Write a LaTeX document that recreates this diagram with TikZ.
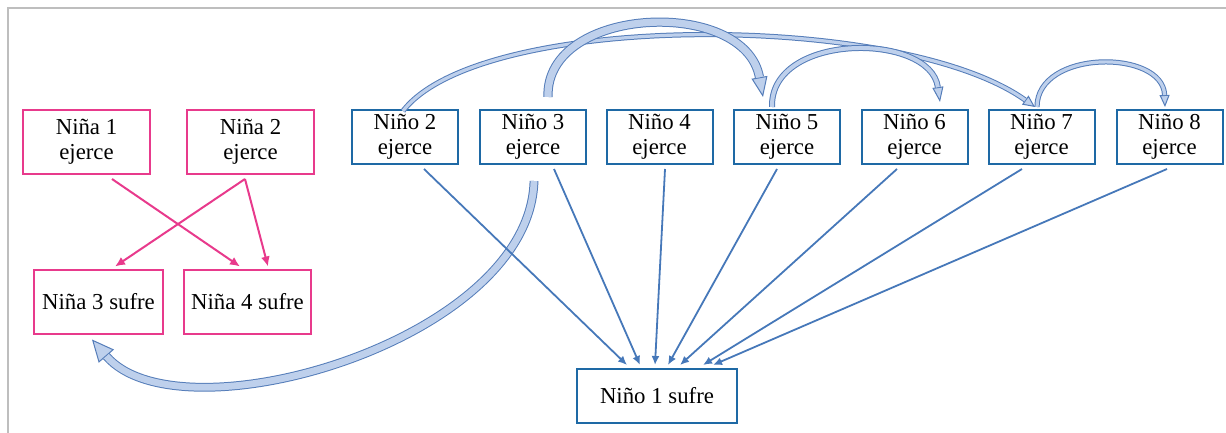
\documentclass[tikz,border=0pt]{standalone}
\usepackage{fontspec}
\setmainfont{Liberation Serif}
\usetikzlibrary{arrows.meta}
\definecolor{ninapink}{RGB}{232,58,140}
\definecolor{ninoblue}{RGB}{30,105,165}
\definecolor{linkblue}{RGB}{70,120,185}
\definecolor{bandfill}{RGB}{190,208,236}
\definecolor{bandline}{RGB}{85,125,185}
\definecolor{framegray}{RGB}{190,190,190}

\tikzset{nina/.style={draw=ninapink,line width=1pt,minimum width=63.5pt,minimum height=32pt,align=center,inner sep=1pt,font=\fontsize{11.4}{12.6}\selectfont}}
\tikzset{nino/.style={draw=ninoblue,line width=1pt,minimum width=53pt,minimum height=27pt,align=center,inner sep=1pt,font=\fontsize{11.4}{12.6}\selectfont}}
\tikzset{pinkarrow/.style={->,>={Latex[length=5pt,width=4.5pt]},ninapink,line width=1pt}}
\tikzset{bluearrow/.style={->,>={Latex[length=4.5pt,width=4pt]},linkblue,line width=0.9pt}}

% band arrow: #1 shaft width, #2 head length, #3 head width, #4 path
\newcommand{\bandarrow}[4]{%
  \draw[bandfill,line width=0.1pt,-{Triangle[open,fill=bandfill,color=bandline,line width=0.5pt,length=#2,width=#3]}] #4;
  \draw[bandline,line width=0.5pt,double=bandfill,double distance=#1,shorten >=#2] #4;}

\begin{document}
\begin{tikzpicture}[x=0.5pt,y=-0.5pt]
        \useasboundingbox (0,0) rectangle (1226,433);
        % frame
        \draw[framegray,line width=0.75pt] (8,433) -- (8,8) -- (1226,8);
        % girls
        \node[nina] (na1) at (86.5,142) {Niña 1\\ejerce};
        \node[nina] (na2) at (250.5,142) {Niña 2\\ejerce};
        \node[nina,minimum width=64.5pt] (na3) at (98.5,301.5) {Niña 3 sufre};
        \node[nina] (na4) at (247.5,301.5) {Niña 4 sufre};
        % boys
        \node[nino] (n2) at (405,137) {Niño 2\\ejerce};
        \node[nino] (n3) at (533,137) {Niño 3\\ejerce};
        \node[nino] (n4) at (659.5,137) {Niño 4\\ejerce};
        \node[nino] (n5) at (787,137) {Niño 5\\ejerce};
        \node[nino] (n6) at (914.5,137) {Niño 6\\ejerce};
        \node[nino] (n7) at (1041.5,137) {Niño 7\\ejerce};
        \node[nino] (n8) at (1169.5,137) {Niño 8\\ejerce};
        \node[nino,minimum width=80pt] (n1) at (657,396) {Niño 1 sufre};
        % pink arrows
        \draw[pinkarrow] ([shift={(25.5,4)}]na1.south) -- ([shift={(-7.5,-2)}]na4.north);
        \draw[pinkarrow] ([shift={(-5.5,4)}]na2.south) -- ([shift={(16.5,-2)}]na3.north);
        \draw[pinkarrow] ([shift={(-5.5,4)}]na2.south) -- ([shift={(20.5,-2)}]na4.north);
        % band arrows
        \bandarrow{1.6pt}{6pt}{5.5pt}{([shift={(-2,2)}]n2.north) .. controls +(77,-100) and +(-135,-96) .. ([shift={(-6.5,-2)}]n7.north)}
        \bandarrow{3.6pt}{10pt}{8pt}{([shift={(15,-12)}]n3.north) .. controls +(-3,-92) and +(-18,-100) .. ([shift={(-24,-12)}]n5.north)}
        \bandarrow{2pt}{7.5pt}{5.5pt}{([shift={(-15,-2)}]n5.north) .. controls +(-2,-75) and +(-10,-70) .. ([shift={(25.5,-7)}]n6.north)}
        \bandarrow{1.6pt}{6pt}{5pt}{([shift={(-4.5,-2)}]n7.north) .. controls +(0,-58) and +(-2,-58) .. ([shift={(-4.5,-2)}]n8.north)}
        \bandarrow{3.4pt}{11pt}{10pt}{([shift={(1,16)}]n3.south) .. controls +(-4,160) and +(88,102) .. ([shift={(-6.5,5)}]na3.south)}
        % blue arrows to the victim
        \draw[bluearrow] ([shift={(19,4)}]n2.south) -- ([shift={(-30,-3)}]n1.north);
        \draw[bluearrow] ([shift={(21,4)}]n3.south) -- ([shift={(-17,-3)}]n1.north);
        \draw[bluearrow] ([shift={(5.5,4)}]n4.south) -- ([shift={(-2,-3)}]n1.north);
        \draw[bluearrow] ([shift={(-10,4)}]n5.south) -- ([shift={(11,-3)}]n1.north);
        \draw[bluearrow] ([shift={(-17.5,4)}]n6.south) -- ([shift={(23,-3)}]n1.north);
        \draw[bluearrow] ([shift={(-19.5,4)}]n7.south) -- ([shift={(46,-3)}]n1.north);
        \draw[bluearrow] ([shift={(-2.5,4)}]n8.south) -- ([shift={(56,-3)}]n1.north);
    \end{tikzpicture}
\end{document}
